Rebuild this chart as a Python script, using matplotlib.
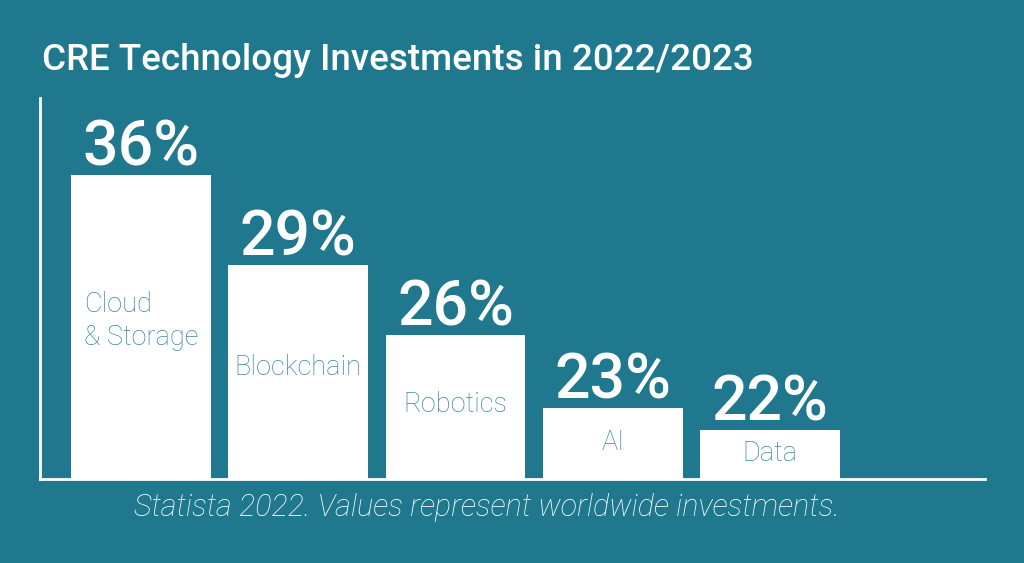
import matplotlib.pyplot as plt

# Data
categories = ["Cloud\n& Storage", "Blockchain", "Robotics", "AI", "Data"]
values = [36, 29, 26, 23, 22]  # percent shown above each bar
# the drawn bars are not to scale, heights as they appear on a 0-100 axis
bar_heights = [79.8, 56.2, 37.8, 18.6, 12.9]

bg = '#1f788e'
label_col = '#3a87a1'

fig = plt.figure(figsize=(10.24, 5.63), dpi=100, facecolor=bg)
ax = fig.add_axes([0.039, 0.149, 0.923, 0.677])
ax.set_facecolor(bg)

x = list(range(len(categories)))
bars = ax.bar(x, bar_heights, width=0.89, color='white', linewidth=0)

ax.set_xlim(-0.642, 5.367)
ax.set_ylim(0, 100)

for b, val, cat in zip(bars, values, categories):
    cx = b.get_x() + b.get_width() / 2
    h = b.get_height()
    ax.annotate(f"{val}%", (cx, h), xytext=(0, 7), textcoords='offset points',
                ha='center', va='baseline', fontsize=45, color='white',
                family='Roboto', fontweight='medium')
    ax.text(cx, h * 0.52, cat, ha='center', va='center', multialignment='left',
            fontsize=19.5, color=label_col, family='Roboto', fontweight='light',
            linespacing=1.3)

for side in ['top', 'right']:
    ax.spines[side].set_visible(False)
for side in ['left', 'bottom']:
    ax.spines[side].set_color('white')
    ax.spines[side].set_linewidth(2)
ax.set_xticks([])
ax.set_yticks([])

fig.text(0.041, 0.876, "CRE Technology Investments in 2022/2023", ha='left',
         va='baseline', fontsize=26.5, color='white', family='Roboto',
         fontweight='medium')
fig.text(0.475, 0.083, "Statista 2022. Values represent worldwide investments.",
         ha='center', va='baseline', fontsize=22, color='white',
         family='Roboto', fontweight='light', style='italic')

fig.savefig('out.png', dpi=100, facecolor=bg)
